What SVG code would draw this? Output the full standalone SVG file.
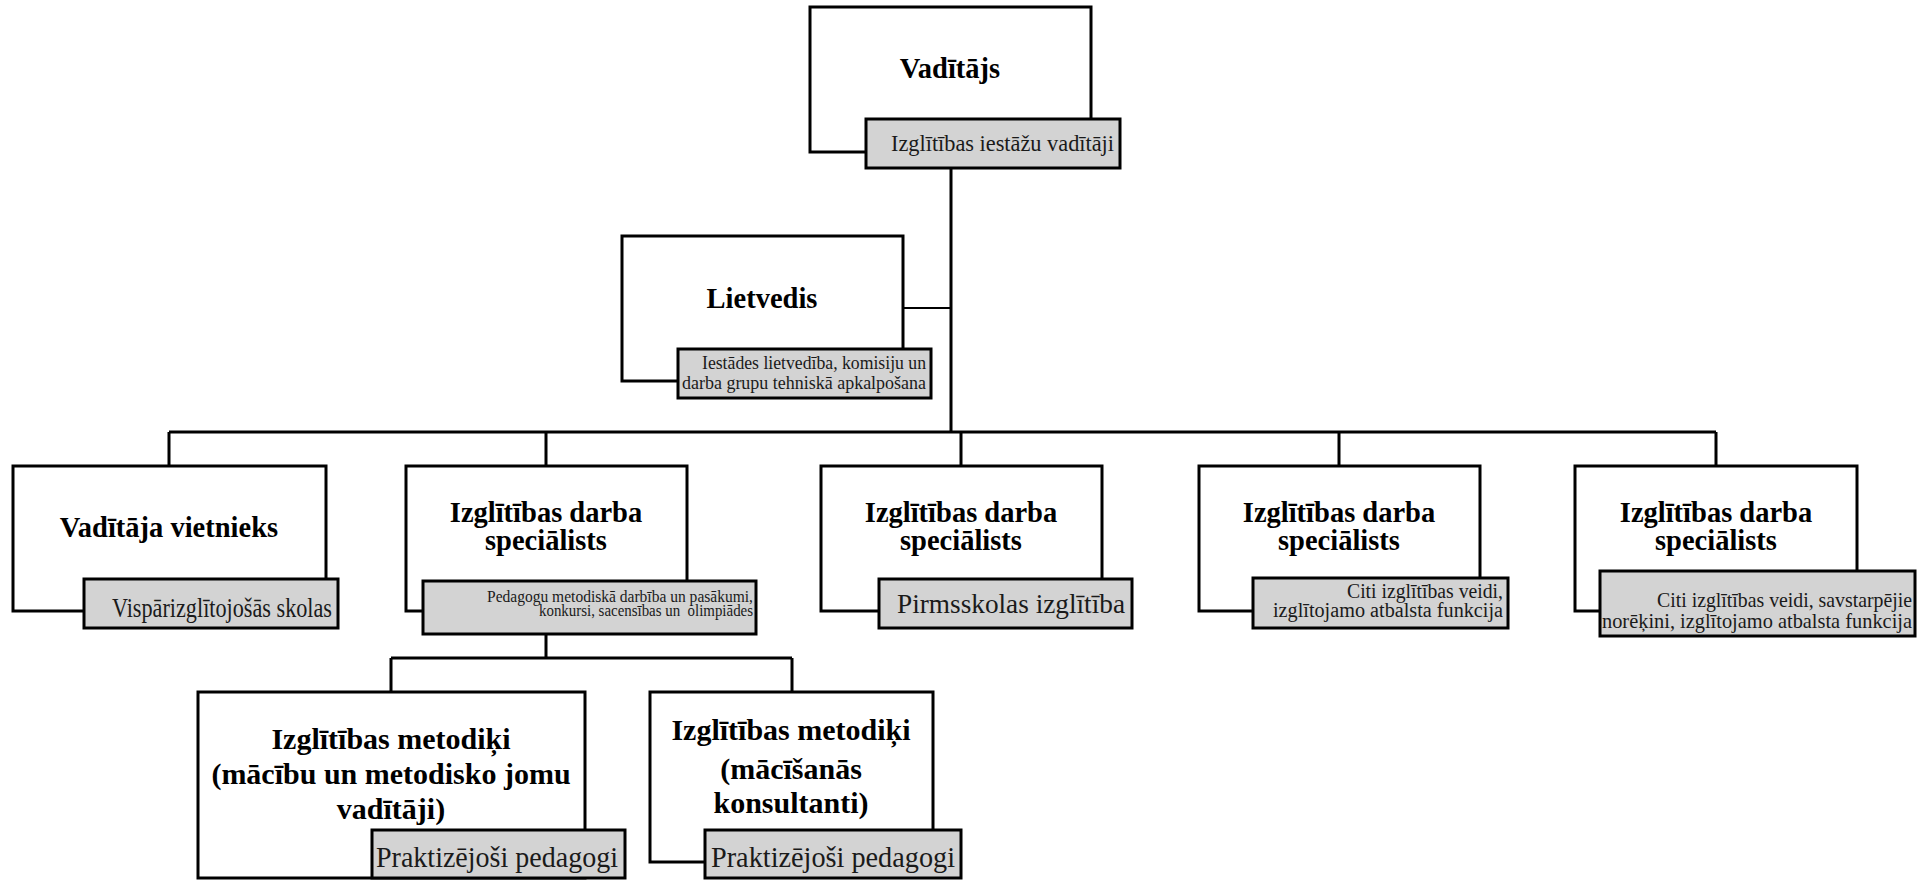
<svg xmlns="http://www.w3.org/2000/svg" width="1928" height="880" viewBox="0 0 1928 880">
<style>
.box{fill:#fff;stroke:#000;stroke-width:3}
.lbl{fill:#d3d3d3;stroke:#000;stroke-width:3}
.t{font-family:"Liberation Serif","Times New Roman",serif;font-weight:bold;font-size:28.5px;fill:#000;text-anchor:middle}
.tb{font-family:"Liberation Serif","Times New Roman",serif;font-weight:bold;font-size:30px;fill:#000;text-anchor:middle}
.s{font-family:"Liberation Serif","Times New Roman",serif;fill:#1a1a1a;text-anchor:end}
.c{fill:none;stroke:#000;stroke-width:3}
.c2{fill:none;stroke:#000;stroke-width:2}
</style>
<rect width="1928" height="880" fill="#fff"/>
<g id="connectors">
<path class="c" d="M951,168 V432"/>
<path class="c2" d="M903,308 H951"/>
<path class="c" d="M169,432 H1716"/>
<path class="c" d="M169,432 V466 M546,432 V466 M961,432 V466 M1339,432 V466 M1716,432 V466"/>
<path class="c" d="M546,634 V658 M391,658 H792 M391,658 V692 M792,658 V692"/>
</g>
<g id="vaditajs">
<rect class="box" x="810" y="7" width="281" height="145"/>
<rect class="lbl" x="866" y="119" width="254" height="49"/>
<text class="t" x="950" y="78">Vadītājs</text>
<text class="s" x="1114" y="151" font-size="24" textLength="223" lengthAdjust="spacingAndGlyphs">Izglītības iestāžu vadītāji</text>
</g>
<g id="lietvedis">
<rect class="box" x="622" y="236" width="281" height="145"/>
<rect class="lbl" x="678" y="349" width="253" height="49"/>
<text class="t" x="762" y="308">Lietvedis</text>
<text class="s" x="926" y="369" font-size="19" textLength="224" lengthAdjust="spacingAndGlyphs">Iestādes lietvedība, komisiju un</text>
<text class="s" x="926" y="389" font-size="19" textLength="244" lengthAdjust="spacingAndGlyphs">darba grupu tehniskā apkalpošana</text>
</g>
<g id="vietnieks">
<rect class="box" x="13" y="466" width="313" height="145"/>
<rect class="lbl" x="84" y="579" width="254" height="49"/>
<text class="t" x="169" y="537">Vadītāja vietnieks</text>
<text class="s" x="332" y="617" font-size="26.5" textLength="220" lengthAdjust="spacingAndGlyphs">Vispārizglītojošās skolas</text>
</g>
<g id="specialists1">
<rect class="box" x="406" y="466" width="281" height="145"/>
<rect class="lbl" x="423" y="581" width="333" height="53"/>
<text class="t" x="546" y="522">Izglītības darba</text>
<text class="t" x="546" y="550">speciālists</text>
<text class="s" x="753" y="602" font-size="16" textLength="266" lengthAdjust="spacingAndGlyphs">Pedagogu metodiskā darbība un pasākumi,</text>
<text class="s" x="753" y="616" font-size="16" textLength="214" lengthAdjust="spacingAndGlyphs" xml:space="preserve">konkursi, sacensības un  olimpiādes</text>
</g>
<g id="specialists2">
<rect class="box" x="821" y="466" width="281" height="145"/>
<rect class="lbl" x="879" y="579" width="253" height="49"/>
<text class="t" x="961" y="522">Izglītības darba</text>
<text class="t" x="961" y="550">speciālists</text>
<text class="s" x="1125" y="613" font-size="28" textLength="228" lengthAdjust="spacingAndGlyphs">Pirmsskolas izglītība</text>
</g>
<g id="specialists3">
<rect class="box" x="1199" y="466" width="281" height="145"/>
<rect class="lbl" x="1253" y="578" width="255" height="50"/>
<text class="t" x="1339" y="522">Izglītības darba</text>
<text class="t" x="1339" y="550">speciālists</text>
<text class="s" x="1503" y="598" font-size="20.5" textLength="156" lengthAdjust="spacingAndGlyphs">Citi izglītības veidi,</text>
<text class="s" x="1503" y="617" font-size="20.5" textLength="230" lengthAdjust="spacingAndGlyphs">izglītojamo atbalsta funkcija</text>
</g>
<g id="specialists4">
<rect class="box" x="1575" y="466" width="282" height="145"/>
<rect class="lbl" x="1600" y="571" width="315" height="65"/>
<text class="t" x="1716" y="522">Izglītības darba</text>
<text class="t" x="1716" y="550">speciālists</text>
<text class="s" x="1912" y="607" font-size="21" textLength="255" lengthAdjust="spacingAndGlyphs">Citi izglītības veidi, savstarpējie</text>
<text class="s" x="1912" y="628" font-size="21" textLength="310" lengthAdjust="spacingAndGlyphs">norēķini, izglītojamo atbalsta funkcija</text>
</g>
<g id="metodiki1">
<rect class="box" x="198" y="692" width="387" height="186"/>
<rect class="lbl" x="372" y="830" width="253" height="48"/>
<text class="tb" x="391" y="749">Izglītības metodiķi</text>
<text class="tb" x="391" y="784">(mācību un metodisko jomu</text>
<text class="tb" x="391" y="819">vadītāji)</text>
<text class="s" x="618" y="867" font-size="30" textLength="242" lengthAdjust="spacingAndGlyphs">Praktizējoši pedagogi</text>
</g>
<g id="metodiki2">
<rect class="box" x="650" y="692" width="283" height="170"/>
<rect class="lbl" x="705" y="830" width="256" height="48"/>
<text class="tb" x="791" y="740">Izglītības metodiķi</text>
<text class="tb" x="791" y="779">(mācīšanās</text>
<text class="tb" x="791" y="813">konsultanti)</text>
<text class="s" x="955" y="867" font-size="30" textLength="244" lengthAdjust="spacingAndGlyphs">Praktizējoši pedagogi</text>
</g>
</svg>
